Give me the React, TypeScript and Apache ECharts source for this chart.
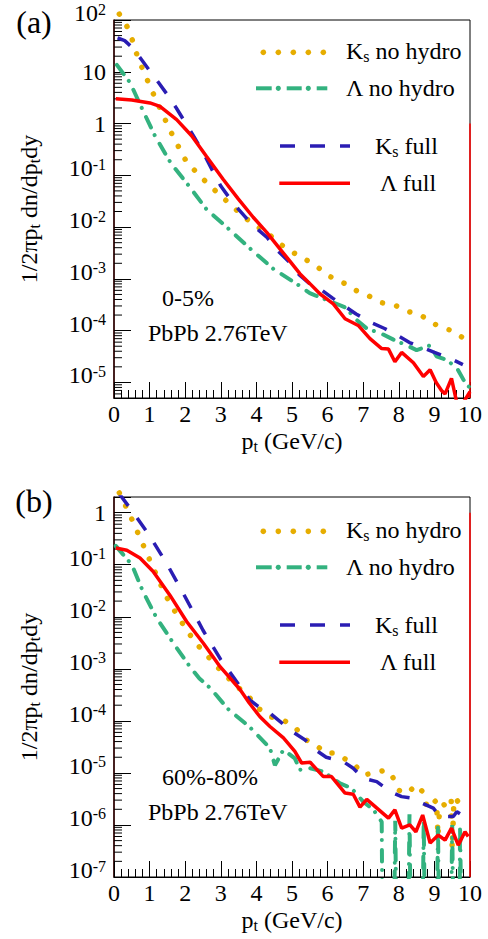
import React, { useEffect, useRef } from "react";
import * as echarts from "echarts";

// ---------- Data: panel (a) 0-5% ----------
const ksNoHydroA: [number, number][] = [
  [0.15, 130], [0.38, 72], [0.54, 37], [0.66, 19.6], [0.82, 10.6], [0.98, 5.9], [1.15, 3.2],
  [1.33, 1.72], [1.51, 0.93], [1.69, 0.51], [1.85, 0.32], [2.04, 0.18], [2.5, 0.085], [3.0, 0.04],
  [3.32, 0.0257], [3.63, 0.016], [4.0, 0.0105], [4.32, 7.6e-3], [4.63, 4.9e-3], [4.99, 3.35e-3],
  [5.35, 2.45e-3], [5.71, 1.7e-3], [6.05, 1.12e-3], [6.39, 8.9e-4], [6.74, 6.2e-4], [7.13, 4.8e-4],
  [7.48, 3.5e-4], [7.89, 3.1e-4], [8.24, 2.36e-4], [8.6, 2.04e-4], [8.94, 1.4e-4], [9.25, 1.13e-4],
  [9.55, 9.7e-5], [9.88, 6.6e-5],
];
const lamNoHydroA: [number, number][] = [
  [0.08, 13.6], [0.45, 6.2], [0.8, 1.86], [1.15, 0.58], [1.6, 0.17], [2.1, 0.063], [2.6, 0.022],
  [3.2, 0.0095], [3.87, 3.6e-3], [4.48, 1.55e-3], [5.18, 7.6e-4], [5.5, 5.3e-4], [5.65, 4.8e-4],
  [6.16, 3.5e-4], [6.5, 2.8e-4], [6.82, 1.6e-4], [7.1, 1.1e-4], [7.52, 8.7e-5], [7.85, 6.7e-5],
  [8.22, 5.2e-5], [8.5, 4.2e-5], [8.88, 5.2e-5], [9.06, 3.2e-5], [9.35, 2.7e-5], [9.63, 1.9e-5],
  [9.9, 8.9e-6], [10, 8e-6],
];
const ksFullA: [number, number][] = [
  [0.1, 45], [0.3, 40], [0.5, 30], [0.75, 18], [1.0, 10.5], [1.25, 6.2], [1.5, 3.6], [1.75, 2.0],
  [2.0, 1.05], [2.25, 0.55], [2.5, 0.28], [2.75, 0.13], [3.0, 0.062], [3.25, 0.036], [3.5, 0.022],
  [3.75, 0.014], [4.0, 0.0095], [4.3, 6.3e-3], [4.6, 3.5e-3], [4.9, 2.2e-3], [5.2, 1.2e-3],
  [5.5, 8e-4], [5.8, 6.3e-4], [6.15, 4.2e-4], [6.5, 2.9e-4], [6.8, 2.1e-4], [7.25, 1.4e-4],
  [7.6, 1.1e-4], [8.0, 7.8e-5], [8.3, 5.9e-5], [8.7, 4.6e-5], [9.0, 3.8e-5], [9.45, 2.9e-5],
  [9.8, 2.2e-5],
];
const lamFullA: [number, number][] = [
  [0.05, 3.0], [0.5, 2.85], [1.01, 2.5], [1.29, 2.15], [1.76, 1.19], [2.18, 0.58], [2.6, 0.23],
  [3.07, 0.083], [3.49, 0.035], [3.91, 0.0155], [4.29, 7.9e-3], [4.66, 3.8e-3], [4.94, 2.2e-3],
  [5.22, 1.26e-3], [5.51, 8e-4], [5.79, 5.1e-4], [6.16, 3.3e-4], [6.49, 1.7e-4], [6.86, 1.26e-4],
  [7.19, 7e-5], [7.52, 4.5e-5], [7.71, 4.4e-5], [7.89, 2.5e-5], [8.08, 3.8e-5], [8.41, 2.4e-5],
  [8.69, 1.3e-5], [8.88, 1.75e-5], [9.05, 1.0e-5], [9.2, 7e-6], [9.3, 6e-6], [9.48, 1.2e-5],
  [9.67, 3e-6], [9.85, 4.5e-6], [10, 6.6e-6],
];

// ---------- Data: panel (b) 60%-80% ----------
const ksNoHydroB: [number, number][] = [
  [0.15, 2.4], [0.38, 1.14], [0.56, 0.61], [0.73, 0.33], [0.9, 0.18], [1.06, 0.1], [1.25, 0.052],
  [1.41, 0.029], [1.62, 0.016], [1.83, 9.4e-3], [2.07, 5.2e-3], [2.32, 3.0e-3], [2.6, 1.86e-3],
  [2.87, 1.14e-3], [3.17, 7.1e-4], [3.45, 4.6e-4], [3.77, 3.0e-4], [4.05, 1.75e-4], [4.38, 1.2e-4],
  [4.74, 1.05e-4], [5.08, 7.6e-5], [5.37, 4.4e-5], [5.65, 3.5e-5], [5.96, 2.4e-5], [6.21, 2.4e-5],
  [6.54, 1.78e-5], [6.74, 1.47e-5], [7.02, 9.2e-6], [7.33, 1e-5], [7.64, 1.14e-5], [7.83, 8.3e-6],
  [8.01, 4.6e-6], [8.22, 4e-6], [8.5, 5.9e-6], [8.7, 4.1e-6], [8.8, 2.1e-6], [9.06, 3e-6],
  [9.1, 6e-7], [9.15, 2.2e-6], [9.3, 2.5e-6], [9.47, 3.4e-6], [9.5, 3.5e-7], [9.55, 3.2e-6],
  [9.63, 3e-6], [9.88, 1.8e-6],
];
const lamNoHydroB: [number, number][] = [
  [0.05, 0.23], [0.5, 0.1], [0.81, 0.031], [1.2, 9.4e-3], [1.67, 3.1e-3], [2.13, 1.1e-3],
  [2.4, 6.5e-4], [2.7, 4.3e-4], [3.2, 1.7e-4], [3.82, 7.5e-5], [4.38, 3e-5], [4.52, 1.4e-5],
  [4.76, 2.8e-5], [5.08, 1.9e-5], [5.22, 1.15e-5], [5.51, 1.23e-5], [5.88, 1.06e-5], [6.35, 6.3e-6],
  [6.67, 5.1e-6], [7.0, 2.8e-6], [7.29, 1.95e-6], [7.52, 1.15e-6], [7.55, 1e-9], [7.85, 1e-9],
  [7.9, 1.2e-6], [7.95, 1e-9], [8.25, 1e-9], [8.3, 1.6e-6], [8.35, 1e-9], [8.65, 1e-9],
  [8.7, 1.2e-6], [8.75, 1e-9], [9.05, 1e-9], [9.1, 1.0e-6], [9.15, 1e-9], [9.45, 1e-9],
  [9.5, 1.0e-6], [9.55, 1e-9], [9.7, 1e-9], [9.72, 1.0e-6], [9.78, 1e-9],
];
const ksFullB: [number, number][] = [
  [0.15, 2.3], [0.5, 1.1], [1.0, 0.36], [1.5, 0.1], [2.0, 0.024], [2.5, 5.5e-3], [3.0, 1.5e-3],
  [3.5, 5e-4], [3.82, 2.5e-4], [4.05, 1.9e-4], [4.38, 1.4e-4], [4.66, 9.8e-5], [4.99, 6.3e-5],
  [5.37, 4.3e-5], [5.65, 2.8e-5], [5.96, 2e-5], [6.44, 1.65e-5], [6.72, 1.23e-5], [7.0, 7.9e-6],
  [7.38, 6.8e-6], [7.75, 4.4e-6], [8.08, 3.5e-6], [8.46, 3.2e-6], [8.67, 2.6e-6], [8.97, 2.1e-6],
  [9.16, 1.45e-6], [9.53, 1.45e-6], [9.63, 1.8e-6], [9.9, 1.35e-6],
];
const lamFullB: [number, number][] = [
  [0.05, 0.21], [0.36, 0.19], [0.73, 0.134], [1.1, 0.074], [1.57, 0.026], [2.04, 8.1e-3],
  [2.51, 3.1e-3], [2.98, 1.1e-3], [3.54, 4.0e-4], [3.8, 2.2e-4], [4.1, 1.2e-4], [4.38, 7.8e-5],
  [4.76, 4.7e-5], [5.08, 2.6e-5], [5.27, 1.55e-5], [5.51, 1.6e-5], [5.88, 8.5e-6], [6.11, 8.5e-6],
  [6.49, 4.1e-6], [6.72, 3.9e-6], [6.91, 2.2e-6], [7.1, 3.1e-6], [7.71, 1.35e-6], [7.89, 1.95e-6],
  [8.08, 8.7e-7], [8.31, 1e-6], [8.48, 7.4e-7], [8.67, 1.55e-6], [8.88, 4.5e-7], [9.11, 6.4e-7],
  [9.3, 5.1e-7], [9.48, 8.7e-7], [9.67, 4.1e-7], [9.86, 7.4e-7], [9.95, 6e-7],
];

// ---------- Axes ----------
const xTicks = [0, 1, 2, 3, 4, 5, 6, 7, 8, 9, 10];
const yRangeA: [number, number] = [5e-6, 100];
const yRangeB: [number, number] = [1e-7, 2];
const panelLabels = ["(a)", "(b)"];
const centralityLabels = ["0-5%", "60%-80%"];
const systemLabel = "PbPb 2.76TeV";

const FONT = "Liberation Serif";
const C_ORANGE = "#e6ad00";
const C_GREEN = "#33b27f";
const C_BLUE = "#2a1db3";
const C_RED = "#ff0000";

const dotStyle = { color: C_ORANGE, width: 5.5, type: [0.01, 14.5] as number[], cap: "round" as const };
const dashDotStyle = { color: C_GREEN, width: 4, type: [11.5, 8.5, 0.01, 10] as number[], cap: "round" as const };
const dashStyle = { color: C_BLUE, width: 3.5, type: [15, 15] as number[], cap: "butt" as const };
const solidStyle = { color: C_RED, width: 3.5, type: "solid" as const };

function minorLogValues(lo: number, hi: number): number[] {
  const out: number[] = [];
  for (let e = Math.floor(Math.log10(lo)); e <= Math.ceil(Math.log10(hi)); e++) {
    for (let m = 2; m <= 9; m++) {
      const v = m * Math.pow(10, e);
      if (v > lo && v < hi) out.push(v);
    }
  }
  return out;
}

function yLabel(v: number): string {
  const e = Math.round(Math.log10(v));
  if (Math.abs(Math.log10(v) - e) > 1e-6) return "";
  if (e === 0) return "{n|1}";
  if (e === 1) return "{n|10}";
  return "{b|10}{s|" + e + "}";
}

export default function App() {
  const ref = useRef<HTMLDivElement>(null);
  useEffect(() => {
    if (!ref.current) return;
    const chart = echarts.init(ref.current, undefined, { renderer: "svg" });
    const grids = [
      { left: 114, top: 20, width: 356, height: 378 },
      { left: 114, top: 497, width: 356, height: 380 },
    ];
    const yRanges = [yRangeA, yRangeB];
    const xAxis = grids.map((_, i) => ({
      type: "value" as const,
      gridIndex: i,
      min: xTicks[0],
      max: xTicks[xTicks.length - 1],
      interval: 1,
      axisLine: { show: true, lineStyle: { color: "#000", width: 1.2 } },
      axisTick: { show: true, inside: true, length: 16, lineStyle: { color: "#000", width: 1 } },
      minorTick: { show: true, splitNumber: 5, length: 8, lineStyle: { color: "#000", width: 1 } },
      splitLine: { show: false },
      axisLabel: { fontFamily: FONT, fontSize: 24, color: "#000", margin: 4 },
    }));
    const yAxis = grids.map((_, i) => ({
      type: "log" as const,
      gridIndex: i,
      min: yRanges[i][0],
      max: yRanges[i][1],
      logBase: 10,
      splitNumber: 8,
      axisLine: { show: true, lineStyle: { color: "#300", width: 1.5 } },
      axisTick: { show: true, inside: true, length: 17, lineStyle: { color: "#000", width: 1 } },
      splitLine: { show: false },
      axisLabel: {
        margin: 8,
        showMinLabel: true,
        showMaxLabel: true,
        hideOverlap: false,
        formatter: yLabel,
        rich: {
          n: { fontFamily: FONT, fontSize: 24, color: "#000" },
          b: { fontFamily: FONT, fontSize: 24, color: "#000", verticalAlign: "top", padding: [0, 0, 14, 0] },
          s: { fontFamily: FONT, fontSize: 16, color: "#000", verticalAlign: "top", padding: [0, 0, 0, 0] },
        },
      },
    }));

    const lineSeries = (data: [number, number][], style: any, idx: number, clip = true) => ({
      type: "line" as const,
      xAxisIndex: idx,
      yAxisIndex: idx,
      data,
      showSymbol: false,
      symbol: "none",
      clip,
      lineStyle: style,
      silent: true,
    });

    const minorSeries = (idx: number) => ({
      type: "custom" as const,
      xAxisIndex: idx,
      yAxisIndex: idx,
      silent: true,
      data: minorLogValues(yRanges[idx][0], yRanges[idx][1]).map((v) => [0, v]),
      renderItem: (_p: any, api: any) => {
        const pt = api.coord([0, api.value(1)]);
        return {
          type: "line",
          shape: { x1: pt[0], y1: pt[1], x2: pt[0] + 8, y2: pt[1] },
          style: { stroke: "#000", lineWidth: 1 },
        };
      },
    });

    const frameSeries = (idx: number) =>
      lineSeries([[10, 1], [10, yRanges[idx][0]]], { color: C_RED, width: 1.5 }, idx);

    const series: any[] = [];
    const panels = [
      [ksNoHydroA, lamNoHydroA, ksFullA, lamFullA],
      [ksNoHydroB, lamNoHydroB, ksFullB, lamFullB],
    ];
    panels.forEach((p, i) => {
      series.push(minorSeries(i));
      series.push(frameSeries(i));
      series.push(lineSeries(p[0], dotStyle, i, false));
      series.push(lineSeries(p[1], dashDotStyle, i));
      series.push(lineSeries(p[2], dashStyle, i));
      series.push(lineSeries(p[3], solidStyle, i));
    });

    const sub = { fontFamily: FONT, fontSize: 16, padding: [10, 0, 0, 0], fill: "#000" };
    const graphic: any[] = [];
    const offsets = [0, 479];
    offsets.forEach((dy, i) => {
      graphic.push({
        type: "text", x: 34, y: 22 + dy,
        style: { text: panelLabels[i], font: `32px ${FONT}`, fill: "#000", align: "center", verticalAlign: "middle" },
      });
      const cy = grids[i].top + grids[i].height / 2;
      graphic.push({
        type: "text", x: 29, y: cy, rotation: Math.PI / 2,
        style: {
          text: "1/2πp{t|t} dn/dp{t|t}dy",
          font: `24px ${FONT}`, fill: "#000", align: "center", verticalAlign: "middle",
          rich: { t: sub },
        },
      });
      graphic.push({
        type: "text", x: 292, y: grids[i].top + grids[i].height + 43,
        style: {
          text: "p{t|t} (GeV/c)", font: `24px ${FONT}`, fill: "#000", align: "center", verticalAlign: "middle",
          rich: { t: sub },
        },
      });
      graphic.push({
        type: "text", x: 162, y: 298 + dy,
        style: { text: centralityLabels[i], font: `24px ${FONT}`, fill: "#000", align: "left", verticalAlign: "middle" },
      });
      graphic.push({
        type: "text", x: 148, y: 333 + dy,
        style: { text: systemLabel, font: `24px ${FONT}`, fill: "#000", align: "left", verticalAlign: "middle" },
      });
      [263.3, 278.3, 293.3, 308.3, 323.3].forEach((x) =>
        graphic.push({ type: "circle", shape: { cx: x, cy: 52.3 + dy, r: 2.8 }, style: { fill: C_ORANGE } })
      );
      [[256, 271.7], [286.7, 301.7], [316.7, 327.3]].forEach(([a, b]) =>
        graphic.push({ type: "line", shape: { x1: a, y1: 88.3 + dy, x2: b, y2: 88.3 + dy }, style: { stroke: C_GREEN, lineWidth: 4 } })
      );
      [278.3, 308.3].forEach((x) =>
        graphic.push({ type: "circle", shape: { cx: x, cy: 88.3 + dy, r: 2.6 }, style: { fill: C_GREEN } })
      );
      [[280, 295], [310, 325], [340, 350]].forEach(([a, b]) =>
        graphic.push({ type: "line", shape: { x1: a, y1: 146 + dy, x2: b, y2: 146 + dy }, style: { stroke: C_BLUE, lineWidth: 3.5 } })
      );
      graphic.push({ type: "line", shape: { x1: 279.3, y1: 183.3 + dy, x2: 350, y2: 183.3 + dy }, style: { stroke: C_RED, lineWidth: 3.5 } });
      const legText = (t: string, x: number, y: number) => ({
        type: "text", x, y: y + dy,
        style: {
          text: t, font: `24px ${FONT}`, fill: "#000", align: "left", verticalAlign: "middle",
          rich: { s: { fontFamily: FONT, fontSize: 16, padding: [11, 0, 0, 0], fill: "#000" } },
        },
      });
      graphic.push(legText("K{s|s} no hydro", 346, 51));
      graphic.push(legText("Λ no hydro", 346, 88));
      graphic.push(legText("K{s|s} full", 375, 146));
      graphic.push(legText("Λ full", 380, 183));
    });

    chart.setOption({
      animation: false,
      backgroundColor: "#fff",
      textStyle: { fontFamily: FONT },
      grid: grids.map((g) => ({ ...g, show: true, borderColor: "#000", borderWidth: 1, backgroundColor: "transparent" })),
      xAxis,
      yAxis,
      series,
      graphic,
    });
    return () => chart.dispose();
  }, []);
  return <div ref={ref} style={{ position: "fixed", left: 0, top: 0, width: 488, height: 939, background: "#fff" }} />;
}
